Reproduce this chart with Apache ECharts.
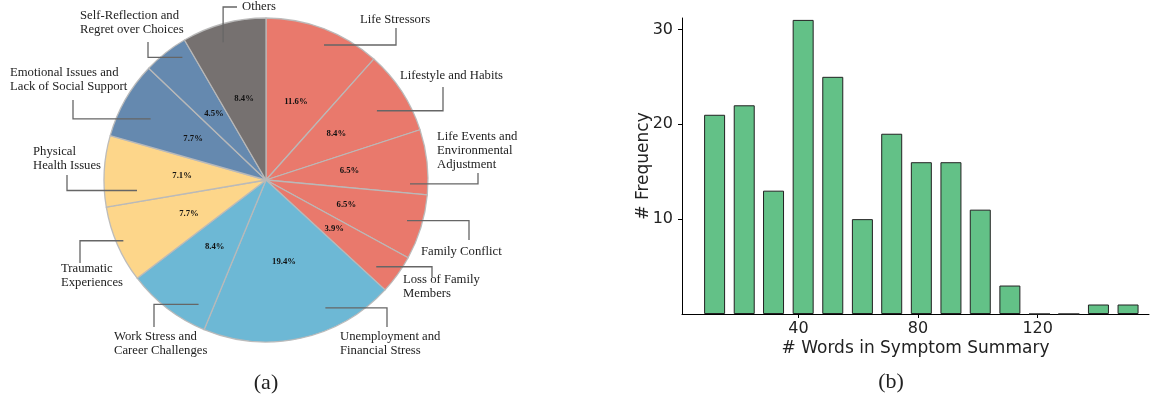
<!DOCTYPE html>
<html>
<head>
<meta charset="utf-8">
<script src="https://cdn.jsdelivr.net/npm/echarts@6/dist/echarts.min.js"></script>
<style>
  html, body { margin: 0; padding: 0; background: #fff; }
  #main { width: 1152px; height: 405px; }
</style>
</head>
<body>
<div id="main"></div>
<script>
  // (a) symptom categories, share in percent
  const categories = [
    'Life Stressors', 'Lifestyle and Habits', 'Life Events and\nEnvironmental\nAdjustment',
    'Family Conflict', 'Loss of Family\nMembers', 'Unemployment and\nFinancial Stress',
    'Work Stress and\nCareer Challenges', 'Traumatic\nExperiences', 'Physical\nHealth Issues',
    'Emotional Issues and\nLack of Social Support', 'Self-Reflection and\nRegret over Choices', 'Others'
  ]
  const shares = [11.6, 8.4, 6.5, 6.5, 3.9, 19.4, 8.4, 7.7, 7.1, 7.7, 4.5, 8.4]

  // (b) histogram of summary lengths
  const binCenters = [12.0, 21.9, 31.7, 41.6, 51.5, 61.4, 71.2, 81.1, 91.0, 100.8, 110.7, 120.6, 130.4, 140.3, 150.2]
  const binCounts = [21, 22, 13, 31, 25, 10, 19, 16, 16, 11, 3, 0, 0, 1, 1]
  const xTicks = [40, 80, 120]
  const yTicks = [10, 20, 30]

  const sliceColors = [
    '#e9796c', '#e9796c', '#e9796c', '#e9796c', '#e9796c',
    '#6db8d5', '#6db8d5', '#fdd68a', '#fdd68a', '#6589af', '#6589af', '#767170'
  ]

  // leader line layout: r = anchor radius factor, da = angle shift from slice middle (deg),
  // ex/ey = elbow end, tx/ty = text box left/top
  const PIE_C = [266, 180]
  const PIE_R = 162
  const leader = [
    {r: 0.907, da: 2.4, ex: 396, ey: 28, tx: 360, ty: 13},
    {r: 0.807, da: 1.2, ex: 443, ey: 87, tx: 400, ty: 69},
    {r: 0.889, da: 7.9, ex: 478, ey: 173, tx: 437, ty: 130},
    {r: 0.906, da: -0.9, ex: 469, ey: 240, tx: 421, ty: 245},
    {r: 0.866, da: 2.5, ex: 432, ey: 277, tx: 403, ty: 273},
    {r: 0.870, da: -12.5, ex: 387, ey: 327, tx: 340, ty: 330},
    {r: 0.873, da: -9.1, ex: 154, ey: 327, tx: 114, ty: 330},
    {r: 0.957, da: 0.4, ex: 80, ey: 263, tx: 61, ty: 262},
    {r: 0.799, da: -7.8, ex: 67, ey: 175, tx: 33, ty: 145},
    {r: 0.806, da: -1.8, ex: 73, ey: 100, tx: 10, ty: 66},
    {r: 0.916, da: 4.0, ex: 148, ey: 42, tx: 80, ty: 9},
    {r: 0.890, da: -2.2, ex: 237, ey: 7, tx: 242, ty: 0, vertical: true}
  ]

  const total = shares.reduce((a, b) => a + b, 0)
  function anchorOf(i) {
    let cum = 0
    for (let k = 0; k < i; k++) cum += shares[k]
    const ang = (cum + shares[i] / 2) / total * Math.PI * 2 + leader[i].da * Math.PI / 180
    const rr = PIE_R * leader[i].r
    return [PIE_C[0] + rr * Math.sin(ang), PIE_C[1] - rr * Math.cos(ang)]
  }

  const chart = echarts.init(document.getElementById('main'))
  const pieData = categories.map((name, i) => ({
    name: name,
    value: shares[i],
    itemStyle: {color: sliceColors[i]}
  }))

  chart.setOption({
    animation: false,
    textStyle: {fontFamily: 'DejaVu Sans'},
    graphic: [
      {type: 'text', x: 266, y: 383, style: {text: '(a)', font: '22px "Liberation Serif"', fill: '#222', align: 'center', verticalAlign: 'middle'}},
      {type: 'text', x: 891, y: 382, style: {text: '(b)', font: '22px "Liberation Serif"', fill: '#222', align: 'center', verticalAlign: 'middle'}}
    ],
    grid: [{left: 682, right: 3, top: 18, bottom: 91}],
    xAxis: [{
      type: 'value',
      min: 1.1,
      max: 157.2,
      name: '# Words in Symptom Summary',
      nameLocation: 'middle',
      nameGap: 26,
      nameMoveOverlap: false,
      nameTextStyle: {fontSize: 17, color: '#222'},
      axisLine: {lineStyle: {color: '#000', width: 1}},
      axisTick: {show: true, length: 4, customValues: xTicks, lineStyle: {color: '#000'}},
      axisLabel: {customValues: xTicks, fontSize: 16, color: '#222', margin: 7},
      splitLine: {show: false}
    }],
    yAxis: [{
      type: 'value',
      min: 0,
      max: 31.2,
      name: '# Frequency',
      nameLocation: 'middle',
      nameGap: 30,
      nameMoveOverlap: false,
      nameTextStyle: {fontSize: 17, color: '#222'},
      axisLine: {show: true, lineStyle: {color: '#000', width: 1}},
      axisTick: {show: true, length: 4, customValues: yTicks, lineStyle: {color: '#000'}},
      axisLabel: {customValues: yTicks, fontSize: 16, color: '#222', margin: 9},
      splitLine: {show: false}
    }],
    series: [
      {
        type: 'pie',
        z: 2,
        center: PIE_C,
        radius: [0, PIE_R],
        startAngle: 90,
        clockwise: true,
        avoidLabelOverlap: false,
        minShowLabelAngle: 0,
        silent: true,
        itemStyle: {borderColor: 'rgba(185,185,185,0.95)', borderWidth: 1.3},
        label: {
          show: true,
          position: 'inside',
          formatter: p => p.value.toFixed(1) + '%',
          fontFamily: 'Liberation Serif',
          fontWeight: 'bold',
          fontSize: 8.7,
          color: '#111'
        },
        labelLine: {show: false},
        data: pieData
      },
      {
        type: 'pie',
        z: 6,
        center: PIE_C,
        radius: [0, PIE_R],
        startAngle: 90,
        clockwise: true,
        avoidLabelOverlap: false,
        minShowLabelAngle: 0,
        silent: true,
        itemStyle: {color: 'rgba(0,0,0,0)', borderWidth: 0},
        label: {
          show: true,
          position: 'outside',
          formatter: '{b}',
          fontFamily: 'Liberation Serif',
          fontSize: 12.7,
          lineHeight: 14,
          color: '#222',
          align: 'left'
        },
        labelLine: {show: true, smooth: false, lineStyle: {color: '#666', width: 1.3}},
        labelLayout: function (params) {
          const i = params.dataIndex
          const L = leader[i]
          const a = anchorOf(i)
          let pts
          if (L.vertical) {
            pts = [a, [a[0], L.ey], [L.ex, L.ey]]
          } else {
            pts = [a, [L.ex, a[1]], [L.ex, L.ey]]
          }
          return {
            x: L.tx,
            y: L.ty,
            align: 'left',
            verticalAlign: 'top',
            labelLinePoints: pts
          }
        },
        data: pieData.map(d => ({name: d.name, value: d.value}))
      },
      {
        type: 'bar',
        xAxisIndex: 0,
        yAxisIndex: 0,
        barWidth: 21,
        itemStyle: {color: '#63c187', borderColor: '#222', borderWidth: 1},
        data: binCenters.map((c, i) => [c, binCounts[i]])
      }
    ]
  })
</script>
</body>
</html>
